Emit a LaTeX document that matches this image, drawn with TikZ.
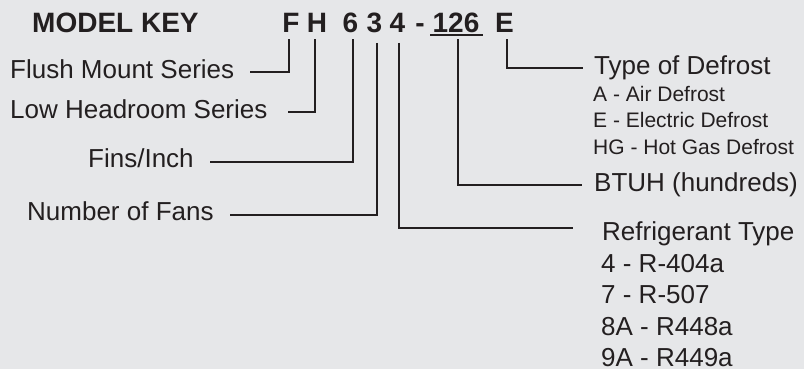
\documentclass[tikz,border=0pt]{standalone}
\usepackage{fontspec}
\setmainfont{Liberation Sans}
\definecolor{bgc}{HTML}{E6E7E9}
\definecolor{ink}{HTML}{231F20}
\begin{document}
\begin{tikzpicture}[x=1pt,y=-1pt,
  big/.style={inner sep=0pt,text=ink,font=\fontsize{26}{30}\selectfont},
  small/.style={inner sep=0pt,text=ink,font=\fontsize{21}{25}\selectfont},
  code/.style={inner sep=0pt,text=ink,font=\fontsize{28}{32}\selectfont\bfseries,anchor=base},
  conn/.style={draw=ink,line width=1.9pt}]
\fill[bgc] (0,0) rectangle (804,369);
\useasboundingbox (0,0) rectangle (804,369);

% header
\node[code,anchor=base west] (mk) at (32,33) {MODEL KEY};
\node[code] (cF) at (291,33) {F};
\node[code] (cH) at (317,33) {H};
\node[code] (c6) at (350.5,33) {6};
\node[code] (c3) at (374.5,33) {3};
\node[code] (c4) at (397.5,33) {4};
\node[code] (cd) at (420,33) {-};
\node[code] (c126) at (456,33) {126};
\node[code] (cE) at (504.5,33) {E};
\draw[ink,line width=1.9pt] (430,34.8) -- (483,34.8);

% left labels
\node[big,anchor=base west] (flush) at (10,78.3) {Flush Mount Series};
\node[big,anchor=base west] (low) at (10,118.3) {Low Headroom Series};
\node[big,anchor=base west] (fins) at (88,167.3) {Fins/Inch};
\node[big,anchor=base west] (fans) at (27,220.7) {Number of Fans};

% right labels
\node[big,anchor=base west] (def) at (594,74.3) {Type of Defrost};
\node[small,anchor=base west] (dA) at (593,101.7) {A - Air Defrost};
\node[small,anchor=base west] (dE) at (593,127.3) {E - Electric Defrost};
\node[small,anchor=base west] (dHG) at (593,154) {HG - Hot Gas Defrost};
\node[big,anchor=base west] (btuh) at (594,191) {BTUH (hundreds)};
\node[big,anchor=base west] (ref) at (602,240) {Refrigerant Type};
\node[big,anchor=base west] (r4) at (601,272.5) {4 - R-404a};
\node[big,anchor=base west] (r7) at (601,303.5) {7 - R-507};
\node[big,anchor=base west] (r8) at (601,335) {8A - R448a};
\node[big,anchor=base west] (r9) at (601,366.5) {9A - R449a};

% connector coordinates
\coordinate (tF) at (289,39.5);   \coordinate (eF) at (250,72);
\coordinate (tH) at (315,39.5);   \coordinate (eH) at (288,112);
\coordinate (t6) at (353,39.5);   \coordinate (e6) at (210,162);
\coordinate (t3) at (377,43);     \coordinate (e3) at (230,215);
\coordinate (t4) at (399,43);     \coordinate (e4) at (573,228);
\coordinate (t126) at (458,39.5); \coordinate (e126) at (582,185);
\coordinate (tE) at (507,39.5);   \coordinate (eE) at (583,68);

\draw[conn] (tF) |- (eF);
\draw[conn] (tH) |- (eH);
\draw[conn] (t6) |- (e6);
\draw[conn] (t3) |- (e3);
\draw[conn] (t4) |- (e4);
\draw[conn] (t126) |- (e126);
\draw[conn] (tE) |- (eE);
\end{tikzpicture}
\end{document}
